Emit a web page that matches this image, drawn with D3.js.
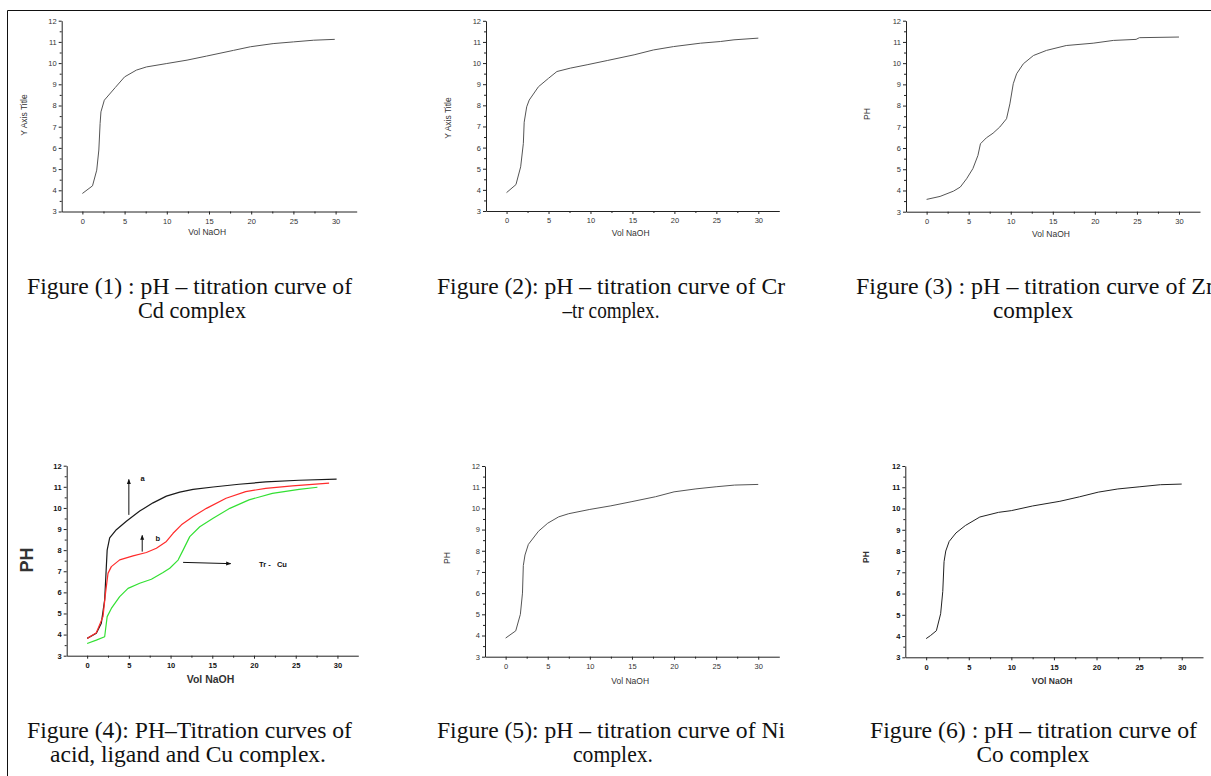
<!DOCTYPE html>
<html>
<head>
<meta charset="utf-8">
<script src="https://cdn.jsdelivr.net/npm/d3@7"></script>
<style>
    body { margin: 0; background: #fff; }
    svg { display: block; }
    .axis path, .axis line { stroke: #222; }
    .axis text { fill: #333; font-family: "Liberation Sans", Arial, sans-serif; font-size: 7.5px; }
    .bold .axis text { font-weight: bold; fill: #111; }
</style>
</head>
<body>
<div id="chart"></div>
<script>

// ---- data (Vol NaOH, pH) ----
const volCd = [0, 1.2, 1.7, 1.95, 2.1, 2.2, 2.6, 3.9, 5.0, 6.4, 7.6, 10, 12.4, 14.7, 17.9, 19.9, 22.6, 25, 27.4, 29.9];
const phCd  = [3.85, 4.21, 4.95, 5.9, 7.15, 7.7, 8.25, 8.85, 9.35, 9.67, 9.82, 9.98, 10.14, 10.33, 10.6, 10.77, 10.92, 11.0, 11.08, 11.12];

const volCr = [0, 1.12, 1.68, 2.0, 2.1, 2.4, 2.7, 3.8, 5.0, 6.0, 7.6, 9.6, 12, 15.2, 17.5, 19.9, 23.1, 25.5, 27.1, 30];
const phCr  = [3.87, 4.25, 5.09, 6.2, 7.2, 7.93, 8.25, 8.88, 9.28, 9.6, 9.76, 9.92, 10.12, 10.39, 10.62, 10.78, 10.94, 11.02, 11.1, 11.18];

const volZn = [0, 1.6, 3.2, 4.0, 4.75, 5.5, 6.1, 6.4, 7.1, 7.9, 8.7, 9.5, 9.9, 10.3, 10.7, 11.5, 12.7, 14.25, 16.6, 19.8, 22.2, 24.9, 25.3, 30];
const phZn  = [3.58, 3.72, 3.97, 4.16, 4.55, 5.03, 5.65, 6.2, 6.48, 6.7, 6.99, 7.38, 8.08, 9.03, 9.5, 9.97, 10.36, 10.6, 10.83, 10.94, 11.07, 11.12, 11.2, 11.23];

// Figure 4: a = acid, b = ligand, Tr-Cu = complex
const volAcid = [0, 1.1, 1.7, 2.1, 2.4, 2.7, 3.5, 4.7, 6.3, 7.9, 9.5, 11.1, 12.7, 15.1, 18.2, 21.4, 25.4, 29.9];
const phAcid  = [3.82, 4.06, 4.54, 5.65, 8.0, 8.58, 8.97, 9.37, 9.85, 10.24, 10.56, 10.75, 10.88, 10.99, 11.12, 11.23, 11.31, 11.36];

const volLig = [0, 1.1, 1.9, 2.2, 2.5, 2.9, 3.9, 5.5, 7.1, 8.3, 9.5, 10.3, 11.3, 12.7, 14.3, 16.65, 19.0, 21.4, 24.6, 29.0];
const phLig  = [3.82, 4.09, 4.85, 5.95, 6.9, 7.22, 7.54, 7.73, 7.89, 8.09, 8.41, 8.8, 9.2, 9.59, 9.98, 10.46, 10.77, 10.93, 11.04, 11.17];

const volCu = [0, 1.1, 2.1, 2.4, 2.9, 3.9, 4.9, 6.3, 7.7, 9.1, 9.9, 10.9, 11.5, 12.3, 13.5, 15.1, 17.1, 19.4, 22.2, 25.4, 27.6];
const phCu  = [3.58, 3.74, 3.9, 4.85, 5.24, 5.8, 6.19, 6.43, 6.62, 6.94, 7.14, 7.53, 8.0, 8.64, 9.11, 9.51, 9.98, 10.38, 10.69, 10.88, 10.98];

const volNi = [0, 1.2, 1.75, 2.0, 2.1, 2.3, 2.7, 3.9, 5.0, 6.3, 7.5, 10, 12.5, 15, 17.8, 20, 22.6, 25, 27.2, 30];
const phNi  = [3.88, 4.22, 5.0, 6.0, 7.3, 7.8, 8.3, 8.92, 9.3, 9.6, 9.75, 9.95, 10.12, 10.32, 10.55, 10.78, 10.92, 11.02, 11.1, 11.13];

const volCo = [0, 0.5, 1.2, 1.7, 1.95, 2.1, 2.3, 2.7, 3.5, 4.6, 6.3, 8.5, 10, 12.5, 15.7, 18, 20.2, 22.5, 25, 27.5, 30];
const phCo  = [3.88, 4.02, 4.25, 5.05, 6.1, 7.5, 8.0, 8.45, 8.85, 9.2, 9.6, 9.82, 9.9, 10.12, 10.34, 10.55, 10.77, 10.92, 11.02, 11.12, 11.15];

const xTicks = [0, 5, 10, 15, 20, 25, 30];
const yTicks = [3, 4, 5, 6, 7, 8, 9, 10, 11, 12];

const zip = (xs, ys) => xs.map((v, i) => ({ vol: v, ph: ys[i] }));

// panel boxes: axis x position (left/right) and y=12 / y=3 positions
const panels = [
    { left: 61.7, right: 356.7, top: 20.7, bottom: 211.5, bold: false,
      yTitle: "Y Axis Title", yTitleX: 25, yTitleY: 115, xTitle: "Vol NaOH", xTitleY: 235,
      series: [{ data: zip(volCd, phCd), color: "#555" }] },
    { left: 486, right: 779.3, top: 20.8, bottom: 211, bold: false,
      yTitle: "Y Axis Title", yTitleX: 449, yTitleY: 118, xTitle: "Vol NaOH", xTitleY: 236,
      series: [{ data: zip(volCr, phCr), color: "#555" }] },
    { left: 906, right: 1200, top: 20.7, bottom: 211.7, bold: false,
      yTitle: "PH", yTitleX: 868, yTitleY: 114, xTitle: "Vol  NaOH", xTitleY: 237,
      series: [{ data: zip(volZn, phZn), color: "#555" }] },
    { left: 66.7, right: 358.3, top: 465.7, bottom: 655.7, bold: true, big: true,
      yTitle: "PH", yTitleX: 28, yTitleY: 560, xTitle: "Vol NaOH", xTitleY: 683,
      series: [
          { data: zip(volAcid, phAcid), color: "#1a1a1a" },
          { data: zip(volLig, phLig), color: "#ff2b2b" },
          { data: zip(volCu, phCu), color: "#33e033" }
      ] },
    { left: 485, right: 779.3, top: 466, bottom: 656.7, bold: false,
      yTitle: "PH", yTitleX: 448, yTitleY: 558, xTitle: "Vol NaOH", xTitleY: 684,
      series: [{ data: zip(volNi, phNi), color: "#555" }] },
    { left: 905.3, right: 1203, top: 466, bottom: 657.3, bold: true,
      yTitle: "PH", yTitleX: 867, yTitleY: 557, xTitle: "VOl NaOH", xTitleY: 684,
      series: [{ data: zip(volCo, phCo), color: "#222" }] }
];

// captions: first line starts at x with width w, second line centred
const captions = [
    { lines: ["Figure (1) : pH \u2013 titration curve of", "Cd complex"], x: 27, w: 325, cx: 192, w2: 108, y: 294 },
    { lines: ["Figure (2): pH \u2013 titration curve of Cr", "\u2013tr complex."], x: 437, w: 348, cx: 611, w2: 97, y: 294 },
    { lines: ["Figure (3) : pH \u2013 titration curve of Zn", "complex"], x: 856, w: 362, cx: 1033, w2: 80, y: 294 },
    { lines: ["Figure (4): PH\u2013Titration curves of", "acid, ligand and Cu complex."], x: 27, w: 325, cx: 188, w2: 276, y: 738 },
    { lines: ["Figure (5): pH \u2013 titration curve of Ni", "complex."], x: 437, w: 348, cx: 613, w2: 80, y: 738 },
    { lines: ["Figure (6) : pH \u2013 titration curve of", "Co complex"], x: 870, w: 327, cx: 1033, w2: 113, y: 738 }
];

const W = 1211, H = 776;
const svg = d3.select("#chart").append("svg")
    .attr("width", W)
    .attr("height", H);

svg.append("defs").append("marker")
    .attr("id", "head")
    .attr("viewBox", "0 0 10 10")
    .attr("refX", 9).attr("refY", 5)
    .attr("markerWidth", 5).attr("markerHeight", 5)
    .attr("orient", "auto")
    .append("path")
    .attr("d", "M0,1 L10,5 L0,9 Z")
    .attr("fill", "#111");

// page frame
svg.append("path")
    .attr("d", "M7.5," + H + " V10.5 H" + W)
    .attr("fill", "none")
    .attr("stroke", "#111")
    .attr("stroke-width", 1);

panels.forEach(function (p) {
    let g = svg.append("g").attr("class", p.bold ? "bold" : "");

    let x = d3.scaleLinear().domain([-2.45, 32.5]).range([p.left, p.right]);
    let y = d3.scaleLinear().domain([3, 12]).range([p.bottom, p.top]);

    // minor ticks
    g.append("g").attr("class", "axis")
        .attr("transform", "translate(0," + p.bottom + ")")
        .call(d3.axisBottom(x).tickValues(d3.range(2.5, 32, 5)).tickSize(2).tickFormat(""))
        .select(".domain").remove();
    g.append("g").attr("class", "axis")
        .attr("transform", "translate(" + p.left + ",0)")
        .call(d3.axisLeft(y).tickValues(d3.range(3.5, 12, 1)).tickSize(2).tickFormat(""))
        .select(".domain").remove();

    // major axes
    g.append("g").attr("class", "axis")
        .attr("transform", "translate(0," + p.bottom + ")")
        .call(d3.axisBottom(x).tickValues(xTicks).tickSize(3).tickPadding(4).tickSizeOuter(0));
    g.append("g").attr("class", "axis")
        .attr("transform", "translate(" + p.left + ",0)")
        .call(d3.axisLeft(y).tickValues(yTicks).tickSize(3).tickPadding(2).tickSizeOuter(0));

    g.selectAll(".domain").attr("stroke-width", 1);

    let line = d3.line()
        .x(d => x(d.vol))
        .y(d => y(d.ph));

    p.series.forEach(function (s) {
        g.append("path")
            .datum(s.data)
            .attr("fill", "none")
            .attr("stroke", s.color)
            .attr("stroke-width", p.big ? 1.2 : 1)
            .attr("stroke-linejoin", "round")
            .attr("d", line);
    });

    // axis titles
    g.append("text")
        .attr("transform", "translate(" + p.yTitleX + "," + p.yTitleY + ") rotate(-90)")
        .attr("text-anchor", "middle")
        .attr("dominant-baseline", "middle")
        .style("font-family", "'Liberation Sans', Arial, sans-serif")
        .style("font-size", p.big ? "18px" : "8.5px")
        .style("font-weight", p.bold ? "bold" : "normal")
        .attr("fill", "#333")
        .text(p.yTitle);

    g.append("text")
        .attr("x", (p.left + p.right) / 2 - 2)
        .attr("y", p.xTitleY)
        .attr("text-anchor", "middle")
        .style("font-family", "'Liberation Sans', Arial, sans-serif")
        .style("font-size", p.big ? "10.5px" : "8.5px")
        .style("font-weight", p.bold ? "bold" : "normal")
        .attr("fill", "#333")
        .text(p.xTitle);

    p.x = x;
    p.y = y;
});

// annotations on figure 4
let p4 = panels[3];
const arrows = [
    { from: [5.0, 9.67], to: [5.0, 11.35], label: "a", at: [6.4, 11.35] },
    { from: [6.6, 7.93], to: [6.6, 8.7], label: "b", at: [8.2, 8.55] },
    { from: [11.5, 7.42], to: [17.2, 7.36], label: "Tr -   Cu", at: [20.6, 7.28] }
];
arrows.forEach(function (a) {
    svg.append("line")
        .attr("x1", p4.x(a.from[0])).attr("y1", p4.y(a.from[1]))
        .attr("x2", p4.x(a.to[0])).attr("y2", p4.y(a.to[1]))
        .attr("stroke", "#111")
        .attr("stroke-width", 1)
        .attr("marker-end", "url(#head)");
    svg.append("text")
        .attr("x", p4.x(a.at[0]))
        .attr("y", p4.y(a.at[1]))
        .attr("dominant-baseline", "middle")
        .style("font-family", "'Liberation Sans', Arial, sans-serif")
        .style("font-size", "7.5px")
        .style("font-weight", "bold")
        .style("white-space", "pre")
        .attr("fill", "#111")
        .text(a.label);
});

// captions
captions.forEach(function (c) {
    svg.append("text")
        .attr("x", c.x)
        .attr("y", c.y)
        .attr("textLength", c.w)
        .attr("lengthAdjust", "spacingAndGlyphs")
        .style("font-family", "'Liberation Serif', 'Times New Roman', serif")
        .style("font-size", "23px")
        .attr("fill", "#111")
        .text(c.lines[0]);
    svg.append("text")
        .attr("x", c.cx - c.w2 / 2)
        .attr("y", c.y + 24)
        .attr("textLength", c.w2)
        .attr("lengthAdjust", "spacingAndGlyphs")
        .style("font-family", "'Liberation Serif', 'Times New Roman', serif")
        .style("font-size", "23px")
        .attr("fill", "#111")
        .text(c.lines[1]);
});

</script>
</body>
</html>
